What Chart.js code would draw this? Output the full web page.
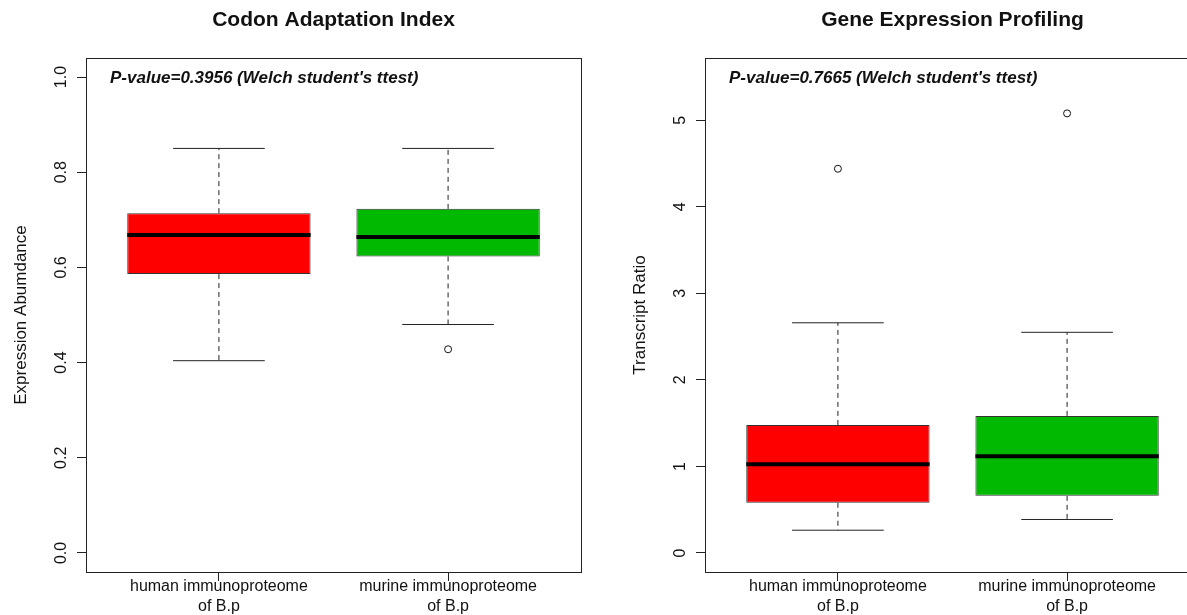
<!DOCTYPE html>
<html>
<head>
<meta charset="utf-8">
<title>Codon Adaptation Index / Gene Expression Profiling</title>
<script src="https://cdn.jsdelivr.net/npm/chart.js@4.4.1/dist/chart.umd.min.js"></script>
<style>
  html, body { margin: 0; padding: 0; background: #fff; overflow: hidden; }
  #wrap { position: relative; width: 1187px; height: 615px; overflow: hidden; }
  canvas { position: absolute; top: 0; }
  #caiChart { left: 0; }
  #gepChart { left: 619px; }
</style>
</head>
<body>
<div id="wrap">
  <canvas id="caiChart" width="600" height="615"></canvas>
  <canvas id="gepChart" width="600" height="615"></canvas>
</div>
<script>
const categories = [["human immunoproteome", "of B.p"], ["murine immunoproteome", "of B.p"]];
const groupPositions = [1, 2];

// Codon Adaptation Index (five-number summaries)
const caiMin = [0.404, 0.480];
const caiQ1 = [0.586, 0.623];
const caiMedian = [0.668, 0.664];
const caiQ3 = [0.714, 0.723];
const caiMax = [0.850, 0.850];
const caiOutliers = [[], [0.428]];
const caiTicks = [0, 0.2, 0.4, 0.6, 0.8, 1.0];
const caiTickLabels = ["0.0", "0.2", "0.4", "0.6", "0.8", "1.0"];
const caiRange = [-0.04, 1.04];

// Gene Expression Profiling
const gepMin = [0.263, 0.387];
const gepQ1 = [0.580, 0.660];
const gepMedian = [1.024, 1.117];
const gepQ3 = [1.480, 1.584];
const gepMax = [2.660, 2.550];
const gepOutliers = [[4.44], [5.08]];
const gepTicks = [0, 1, 2, 3, 4, 5];
const gepTickLabels = ["0", "1", "2", "3", "4", "5"];
const gepRange = [-0.22, 5.72];

const boxColors = ["#ff0000", "#00b900"];
const BOX_HALF = 0.4;
const CAP_HALF = 0.2;
const FONT = '"Liberation Sans", Arial, sans-serif';

function segment(points, extra) {
  return Object.assign({
    type: "scatter",
    data: points,
    showLine: true,
    pointRadius: 0,
    pointHoverRadius: 0,
    borderColor: "#222",
    borderWidth: 1,
    fill: false,
    order: 2
  }, extra);
}

function boxplotDatasets(mins, q1s, medians, q3s, maxs, outliers) {
  let sets = [];

  sets.push({
    type: "bar",
    data: groupPositions.map((c, i) => ({ x: c, y: [q1s[i], q3s[i]] })),
    backgroundColor: boxColors,
    borderColor: "#333",
    borderWidth: 1,
    borderSkipped: false,
    barPercentage: 1,
    categoryPercentage: 2 * BOX_HALF,
    order: 1
  });

  groupPositions.forEach((c, i) => {
    sets.push(segment([{ x: c - BOX_HALF, y: medians[i] }, { x: c + BOX_HALF, y: medians[i] }],
      { borderWidth: 4, borderColor: "#000", order: 0 }));
    sets.push(segment([{ x: c, y: q3s[i] }, { x: c, y: maxs[i] }], { borderDash: [5, 4] }));
    sets.push(segment([{ x: c, y: q1s[i] }, { x: c, y: mins[i] }], { borderDash: [5, 4] }));
    sets.push(segment([{ x: c - CAP_HALF, y: maxs[i] }, { x: c + CAP_HALF, y: maxs[i] }]));
    sets.push(segment([{ x: c - CAP_HALF, y: mins[i] }, { x: c + CAP_HALF, y: mins[i] }]));
  });

  let outlierPoints = [];
  groupPositions.forEach((c, i) => {
    outliers[i].forEach(v => outlierPoints.push({ x: c, y: v }));
  });
  sets.push({
    type: "scatter",
    data: outlierPoints,
    pointStyle: "circle",
    pointRadius: 3.5,
    pointHoverRadius: 3.5,
    backgroundColor: "rgba(0,0,0,0)",
    borderColor: "#111",
    borderWidth: 1,
    order: 0
  });

  return sets;
}

// frame, title, p-value note and rotated y tick labels (R style)
const panelDecor = {
  id: "panelDecor",
  afterDraw(chart, args, opts) {
    const ctx = chart.ctx;
    const a = chart.chartArea;
    const yScale = chart.scales.y;
    ctx.save();

    ctx.strokeStyle = "#222";
    ctx.lineWidth = 1;
    ctx.strokeRect(Math.round(a.left) + 0.5, Math.round(a.top) + 0.5,
      Math.round(a.right - a.left), Math.round(a.bottom - a.top));

    ctx.fillStyle = "#111";
    ctx.textAlign = "center";
    ctx.textBaseline = "middle";
    ctx.font = "bold 21px " + FONT;
    ctx.fillText(opts.title, (a.left + a.right) / 2, 20);

    ctx.font = "16px " + FONT;
    opts.tickValues.forEach((v, i) => {
      ctx.save();
      ctx.translate(a.left - 24, yScale.getPixelForValue(v));
      ctx.rotate(-Math.PI / 2);
      ctx.fillText(opts.tickLabels[i], 0, 0);
      ctx.restore();
    });

    ctx.textAlign = "left";
    ctx.font = "italic bold 17px " + FONT;
    ctx.fillText(opts.note, a.left + 24, a.top + 20);

    ctx.restore();
  }
};

function makeChart(canvasId, datasets, yRange, tickValues, tickLabels, yTitle, title, note) {
  return new Chart(document.getElementById(canvasId), {
    type: "scatter",
    data: { datasets: datasets },
    plugins: [panelDecor],
    options: {
      responsive: false,
      animation: false,
      events: [],
      layout: { padding: { top: 58, right: 19, left: 0, bottom: 0 } },
      plugins: {
        legend: { display: false },
        tooltip: { enabled: false },
        panelDecor: { title: title, note: note, tickValues: tickValues, tickLabels: tickLabels }
      },
      scales: {
        x: {
          type: "linear",
          min: 0.42,
          max: 2.58,
          offset: false,
          afterBuildTicks: (scale) => { scale.ticks = groupPositions.map(v => ({ value: v })); },
          afterFit: (scale) => { scale.height = 43; },
          grid: { display: true, offset: false, drawOnChartArea: false, drawTicks: true, tickLength: 9, color: "#222" },
          border: { display: false },
          ticks: {
            callback: (value, index) => categories[index],
            font: { family: FONT, size: 16, lineHeight: 1.25 },
            color: "#111",
            padding: -4,
            maxRotation: 0,
            autoSkip: false
          }
        },
        y: {
          type: "linear",
          min: yRange[0],
          max: yRange[1],
          afterBuildTicks: (scale) => { scale.ticks = tickValues.map(v => ({ value: v })); },
          afterFit: (scale) => { scale.width = 86; },
          grid: { display: true, drawOnChartArea: false, drawTicks: true, tickLength: 9, color: "#222" },
          border: { display: false },
          ticks: { display: false },
          title: {
            display: true,
            text: yTitle,
            font: { family: FONT, size: 17 },
            color: "#111",
            padding: { top: 11, bottom: 0 }
          }
        }
      }
    }
  });
}

makeChart("caiChart",
  boxplotDatasets(caiMin, caiQ1, caiMedian, caiQ3, caiMax, caiOutliers),
  caiRange, caiTicks, caiTickLabels,
  "Expression Abumdance", "Codon Adaptation Index",
  "P-value=0.3956 (Welch student's ttest)");

makeChart("gepChart",
  boxplotDatasets(gepMin, gepQ1, gepMedian, gepQ3, gepMax, gepOutliers),
  gepRange, gepTicks, gepTickLabels,
  "Transcript Ratio", "Gene Expression Profiling",
  "P-value=0.7665 (Welch student's ttest)");
</script>
</body>
</html>
